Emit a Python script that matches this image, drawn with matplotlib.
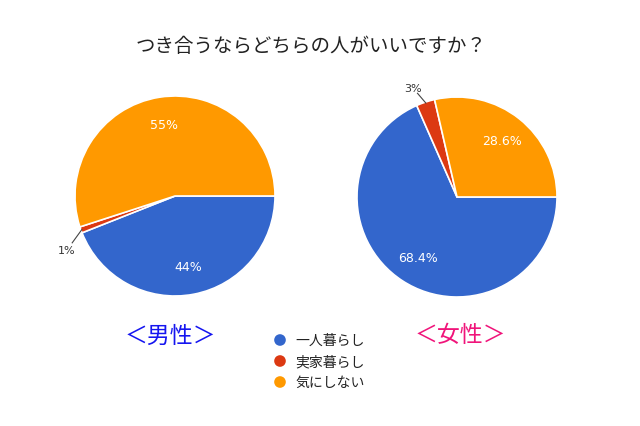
import numpy as np
import matplotlib
matplotlib.use("Agg")
import matplotlib.pyplot as plt

plt.rcParams['font.family'] = ['Noto Sans CJK JP', 'DejaVu Sans']

title = "つき合うならどちらの人がいいですか？"
categories = ["一人暮らし", "実家暮らし", "気にしない"]
colors = ["#3366CC", "#DC3912", "#FF9900"]
male_values = [44, 1, 55]
male_labels = ["44%", "1%", "55%"]
female_values = [68.4, 3, 28.6]
female_labels = ["68.4%", "3%", "28.6%"]
panel_titles = ["＜男性＞", "＜女性＞"]
panel_colors = ["#1515F0", "#F0147A"]

W, H = 640, 427
fig = plt.figure(figsize=(W / 100, H / 100), dpi=100)
ax = fig.add_axes([0, 0, 1, 1])


def draw_pie(values, labels, cx, cy, r, small_label_pos):
    ax.pie(values, colors=colors, startangle=0, counterclock=False,
           center=(cx, cy), radius=r,
           wedgeprops=dict(edgecolor='white', linewidth=1.2))
    total = sum(values)
    start = 0.0
    for v, lab in zip(values, labels):
        frac = v / total
        mid = -(start + frac / 2) * 2 * np.pi
        start += frac
        if frac < 0.05:
            ex, ey = cx + r * 0.99 * np.cos(mid), cy + r * 0.99 * np.sin(mid)
            lx, ly = small_label_pos
            ax.plot([ex, lx + (ex - lx) * 0.35], [ey, ly + (ey - ly) * 0.35],
                    color='#444444', lw=0.8)
            ax.text(lx, ly, lab, ha='center', va='center', fontsize=8,
                    color='#333333', family=['DejaVu Sans'])
        else:
            d = 0.72 * r
            ax.text(cx + d * np.cos(mid), cy + d * np.sin(mid), lab,
                    ha='center', va='center', fontsize=9, color='white',
                    family=['DejaVu Sans'])


draw_pie(male_values, male_labels, 175, H - 197, 100, (67, H - 251))
draw_pie(female_values, female_labels, 457, H - 198, 100, (413, H - 89))

ax.text(311, H - 47, title, ha='center', va='center', fontsize=14,
        color='#222222')

ax.text(170, H - 336, panel_titles[0], ha='center', va='center',
        fontsize=16.5, color=panel_colors[0])
ax.text(460, H - 336, panel_titles[1], ha='center', va='center',
        fontsize=16.5, color=panel_colors[1])

for i, (cat, col) in enumerate(zip(categories, colors)):
    y = H - (341 + 21 * i)
    ax.scatter([280], [y], s=70, color=col, edgecolors='none')
    ax.text(295, y, cat, ha='left', va='center', fontsize=10,
            color='#222222')

ax.set_xlim(0, W)
ax.set_ylim(0, H)
ax.set_aspect('equal')
ax.axis('off')

fig.savefig("out.png", dpi=100, facecolor='white')
